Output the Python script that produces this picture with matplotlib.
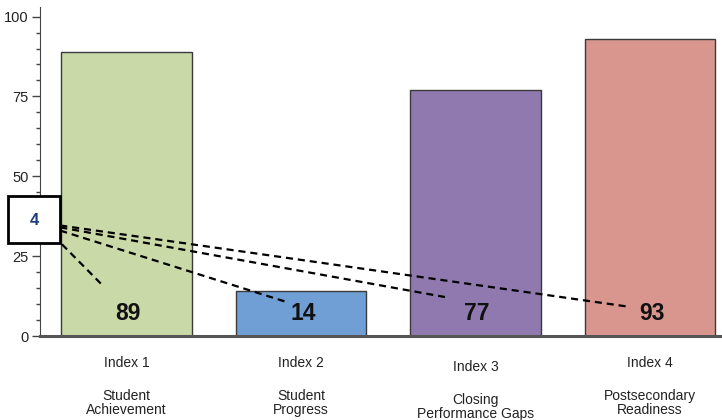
import matplotlib
matplotlib.use("Agg")
import matplotlib.pyplot as plt
from matplotlib.patches import Rectangle
from matplotlib.ticker import MultipleLocator

plt.rcParams["font.family"] = ["Liberation Sans", "DejaVu Sans"]

# data
index_labels = ["Index 1", "Index 2", "Index 3", "Index 4"]
index_names = ["Student\nAchievement", "Student\nProgress", "Closing\nPerformance Gaps", "Postsecondary\nReadiness"]
scores = [89, 14, 77, 93]
distinctions = 4
colors = ["#c9d9a7", "#709fd6", "#9079af", "#d9968f"]

fig = plt.figure(figsize=(7.22, 4.20), dpi=100)
ax = fig.add_axes([40/722, 84/420, 682/722, 329/420])

x = list(range(len(scores)))
ax.bar(x, scores, width=0.75, color=colors, edgecolor="#3a3a3a", linewidth=1.0, zorder=2)
ax.set_xlim(-0.496, 3.413)
ax.set_ylim(0, 103)

for xi, v in zip(x, scores):
    ax.text(xi + 0.01, 7.2, str(v), ha="center", va="center", fontsize=16.5, fontweight="bold", color="#111111", zorder=5)

# category labels
lab_y = [-8.5, -8.5, -9.6, -8.5]
name_y = [-21.0, -21.0, -22.2, -21.0]
for xi, l, n, ly, ny in zip(x, index_labels, index_names, lab_y, name_y):
    ax.text(xi, ly, l, ha="center", va="center", fontsize=10, color="#222222", clip_on=False)
    ax.text(xi, ny, n, ha="center", va="center", fontsize=10, color="#222222", clip_on=False, linespacing=1.05)

# distinction box
ax.add_patch(Rectangle((-0.679, 29.2), 0.298, 14.7, facecolor="white", edgecolor="black",
                       linewidth=2.0, clip_on=False, zorder=6))
ax.text(-0.53, 36.2, str(distinctions), ha="center", va="center", fontsize=12, color="#1f3d7a",
        fontweight="bold", clip_on=False, zorder=7)

# dashed connectors
starts = [(-0.37, 28.7), (-0.38, 33.0), (-0.38, 34.0), (-0.38, 34.6)]
ends = [(-0.14, 16.0), (0.92, 10.6), (1.825, 12.2), (2.887, 9.1)]
for (sx, sy), (ex, ey) in zip(starts, ends):
    ax.plot([sx, ex], [sy, ey], color="black", linestyle=(0, (3.2, 2.2)), linewidth=1.6, clip_on=False, zorder=4)

ax.yaxis.set_major_locator(MultipleLocator(25))
ax.yaxis.set_minor_locator(MultipleLocator(5))
ax.set_xticks([])
ax.tick_params(axis="y", which="major", length=6, width=1, color="#444444", labelsize=10.5, labelcolor="#222222", pad=2)
ax.tick_params(axis="y", which="minor", length=3, width=1, color="#444444")
for s in ["top", "right"]:
    ax.spines[s].set_visible(False)
ax.spines["left"].set_color("#444444")
ax.spines["bottom"].set_color("#555555")
ax.spines["bottom"].set_linewidth(2.2)
ax.spines["bottom"].set_zorder(3)

fig.savefig("out.png", dpi=100)
